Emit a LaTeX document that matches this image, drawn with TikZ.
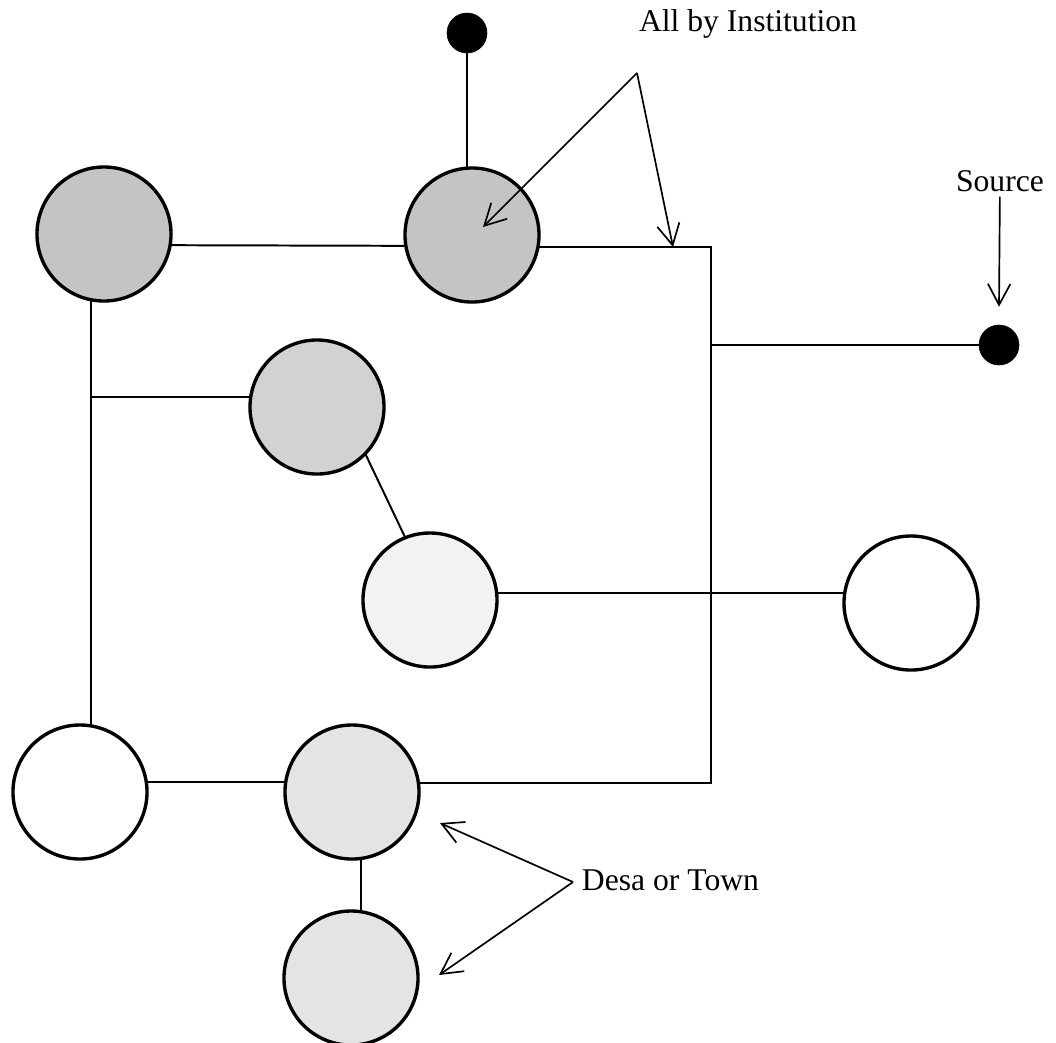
\documentclass[tikz,border=0pt]{standalone}
\usepackage{fontspec}
\setmainfont{Liberation Serif}
\usepackage{tikz}
\usetikzlibrary{arrows.meta, positioning, calc, backgrounds}
\definecolor{dkshade}{RGB}{196,196,196}
\definecolor{mdshade}{RGB}{210,210,210}
\definecolor{ltshade}{RGB}{228,228,228}
\definecolor{fnshade}{RGB}{242,242,242}

\begin{document}
\begin{tikzpicture}[
  x=0.025cm, y=-0.025cm,
  every node/.style={font=\fontsize{22.5}{26}\selectfont},
  place/.style={circle, draw=black, line width=2.4pt, fill=white,
                minimum size=3.35cm, inner sep=0pt},
  dot/.style={circle, fill=black, draw=black, minimum size=1cm, inner sep=0pt},
  link/.style={line width=1.4pt},
  pointer/.style={-{Straight Barb[length=15pt,width=16pt,line width=1.2pt]},
                  line width=1.2pt},
]
\useasboundingbox (0,0) rectangle (1056,1042);

% Settlements
\node[place, fill=dkshade] (a) at (104,234) {};
\node[place, fill=dkshade] (b) at (472,235) {};
\node[place, fill=mdshade] (c) at (317,407) {};
\node[place, fill=fnshade] (d) at (430,600) {};
\node[place]               (e) at (911,603) {};
\node[place]               (f) at (80,792)  {};
\node[place, fill=ltshade] (g) at (352,792) {};
\node[place, fill=ltshade] (h) at (351,978) {};

% Sources
\node[dot] (top) at (467,33)  {};
\node[dot] (src) at (999,345) {};

% Junctions
\coordinate (jtop) at (711,247);
\coordinate (jbot) at (711,783);
\coordinate (jleft) at (91,397);

% ── Network lines ──
\begin{scope}[on background layer]
\draw[link] ($(a)+(0,11)$) -- ($(b)+(0,11)$);
\draw[link] ($(b)+(0,12)$) -- (jtop) -- (jbot) -- ($(g)+(0,-9)$);
\draw[link] (src) -- (src -| jtop);
\draw[link] (top) -- (top |- b);
\draw[link] ($(a)+(-13,0)$) -- ($(f)+(11,0)$);
\draw[link] (jleft) -- (jleft -| c);
\draw[link] ($(c)+(26,0)$) -- ($(d)+(5,0)$);
\draw[link] ($(d)+(0,-7)$) -- ($(e)+(0,-10)$);
\draw[link] ($(f)+(0,-10)$) -- ($(g)+(0,-10)$);
\draw[link] ($(g)+(9,0)$) -- ($(h)+(10,0)$);
\end{scope}

% ── Labels ──
\node (instlbl) at (748,24) {All by Institution};
\coordinate (inst) at (637,73);
\draw[pointer] (inst) -- (483,227);
\draw[pointer] (inst) -- (673,247);

\node (srclbl) at (1000,181) {Source};
\draw[pointer] (srclbl) -- ($(src.north)+(0,-18)$);

\node[anchor=west] (desalbl) at (577,880) {Desa or Town};
\coordinate (desa) at (573,882);
\draw[pointer] (desa) -- (440,823);
\draw[pointer] (desa) -- (439,975);

\end{tikzpicture}
\end{document}
